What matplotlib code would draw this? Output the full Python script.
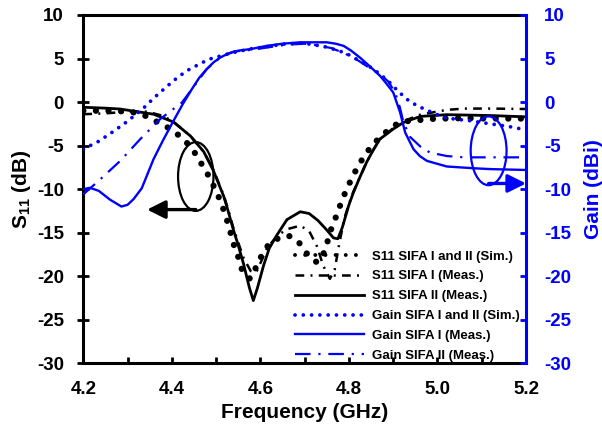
import matplotlib
matplotlib.use("Agg")
import matplotlib.pyplot as plt
from matplotlib.lines import Line2D
from matplotlib.patches import Ellipse, FancyArrowPatch

plt.rcParams["font.family"] = ["Liberation Sans", "DejaVu Sans"]
plt.rcParams["font.weight"] = "bold"
plt.rcParams["axes.labelweight"] = "bold"
plt.rcParams["axes.unicode_minus"] = False
plt.rcParams["mathtext.fontset"] = "custom"
plt.rcParams["mathtext.bf"] = "Liberation Sans:bold"
plt.rcParams["mathtext.rm"] = "Liberation Sans:bold"
plt.rcParams["mathtext.default"] = "bf"

BLUE = "#0000FF"

# S11 simulated (SIFA I and II)
f_s11_sim = [4.20, 4.26, 4.30, 4.33, 4.355, 4.381, 4.408, 4.43, 4.449, 4.464, 4.48,
             4.494, 4.505, 4.515, 4.524, 4.532, 4.54, 4.55, 4.558, 4.567, 4.577,
             4.588, 4.603, 4.618, 4.635, 4.65, 4.667, 4.68, 4.69, 4.705, 4.718,
             4.728, 4.74, 4.75, 4.761, 4.773, 4.784, 4.795, 4.806, 4.821, 4.84,
             4.855, 4.874, 4.90, 4.93, 4.953, 4.983, 5.01, 5.06, 5.12, 5.20]
s11_sim = [-1.0, -1.0, -1.1, -1.3, -2.0, -2.6, -3.5, -4.45, -5.6, -6.85, -8.2,
           -9.6, -10.8, -12.1, -13.5, -14.9, -16.4, -17.8, -19.2, -19.9, -20.3,
           -19.2, -17.6, -16.4, -15.8, -15.4, -15.4, -15.8, -16.3, -17.4, -18.1,
           -18.4, -17.8, -16.3, -14.4, -12.9, -11.3, -10.0, -8.8, -7.3, -5.8,
           -4.8, -3.9, -2.7, -2.2, -2.1, -1.95, -1.9, -1.85, -1.9, -1.9]

# S11 measured, SIFA I
f_s11_m1 = [4.20, 4.25, 4.30, 4.344, 4.381, 4.404, 4.442, 4.472, 4.494, 4.505,
            4.517, 4.527, 4.538, 4.549, 4.562, 4.578, 4.59, 4.60, 4.615, 4.637,
            4.66, 4.69, 4.71, 4.728, 4.742, 4.757, 4.768, 4.778, 4.79, 4.80,
            4.81, 4.825, 4.84, 4.855, 4.87, 4.90, 4.923, 4.961, 5.021, 5.06,
            5.12, 5.20]
s11_m1 = [-1.4, -1.3, -1.1, -1.1, -1.6, -2.3, -3.9, -5.7, -7.8, -9.2,
          -10.7, -12.3, -14.3, -16.0, -17.9, -19.4, -19.6, -18.5, -16.8, -15.4,
          -14.6, -14.2, -14.8, -16.6, -18.8, -20.3, -19.2, -16.3, -13.3, -11.7,
          -10.3, -8.6, -6.9, -5.5, -4.25, -3.0, -2.2, -1.45, -0.9, -0.75,
          -0.75, -0.8]

# S11 measured, SIFA II
f_s11_m2 = [4.20, 4.25, 4.283, 4.359, 4.404, 4.442, 4.472, 4.494, 4.505, 4.517,
            4.527, 4.538, 4.549, 4.562, 4.575, 4.584, 4.593, 4.607, 4.62, 4.637,
            4.66, 4.69, 4.71, 4.73, 4.75, 4.765, 4.775, 4.785, 4.80, 4.81,
            4.825, 4.84, 4.855, 4.87, 4.90, 4.923, 4.961, 5.021, 5.12, 5.20]
s11_m2 = [-0.6, -0.7, -0.8, -1.4, -2.3, -3.9, -5.7, -7.9, -9.3, -10.8,
          -12.5, -14.5, -16.3, -18.6, -21.3, -22.8, -21.4, -18.8, -16.8, -15.3,
          -13.5, -12.6, -12.8, -13.6, -14.7, -15.6, -15.7, -14.4, -11.8, -10.4,
          -8.6, -6.9, -5.5, -4.25, -3.1, -2.35, -1.65, -1.45, -1.55, -1.7]

# Gain simulated (SIFA I and II)
f_gain_sim = [4.20, 4.235, 4.27, 4.30, 4.336, 4.36, 4.389, 4.41, 4.434, 4.46,
              4.483, 4.51, 4.54, 4.577, 4.62, 4.652, 4.69, 4.712, 4.735, 4.75,
              4.77, 4.788, 4.805, 4.818, 4.835, 4.855, 4.875, 4.893, 4.908, 4.93,
              4.953, 4.979, 5.013, 5.044, 5.067, 5.119, 5.16, 5.20]
gain_sim = [-5.4, -4.5, -3.3, -2.2, -0.7, 0.5, 1.8, 2.7, 3.6, 4.3,
            4.9, 5.3, 5.7, 6.1, 6.4, 6.65, 6.75, 6.65, 6.45, 6.3,
            6.0, 5.7, 5.3, 4.9, 4.4, 3.8, 3.0, 2.2, 1.4, 0.35,
            -0.4, -1.0, -1.75, -2.0, -2.1, -2.5, -2.8, -3.2]

# Gain measured, SIFA I
f_gain_m1 = [4.20, 4.215, 4.235, 4.26, 4.286, 4.30, 4.3135, 4.332, 4.3587, 4.38,
             4.4038, 4.425, 4.4454, 4.462, 4.479, 4.494, 4.509, 4.528, 4.55,
             4.58, 4.614, 4.65, 4.69, 4.75, 4.77, 4.788, 4.805, 4.825, 4.845,
             4.8704, 4.885, 4.90, 4.9156, 4.927, 4.9456, 4.96, 4.9758, 5.0,
             5.021, 5.081, 5.119, 5.20]
gain_m1 = [-10.0, -9.85, -10.2, -11.2, -12.0, -11.8, -11.15, -9.9, -6.55, -4.4,
           -2.15, -0.2, 1.5, 2.8, 3.8, 4.55, 5.1, 5.6, 5.9,
           6.1, 6.45, 6.7, 6.86, 6.86, 6.7, 6.45, 5.9, 5.1, 4.2,
           3.0, 2.1, 1.1, -1.2, -3.5, -5.4, -6.2, -6.75, -7.1,
           -7.4, -7.6, -7.7, -7.8]

# Gain measured, SIFA II
f_gain_m2 = [4.20, 4.2377, 4.2835, 4.3287, 4.3738, 4.4228, 4.4454, 4.479, 4.509,
             4.54, 4.58, 4.62, 4.66, 4.70, 4.73, 4.76, 4.79, 4.82, 4.85, 4.87,
             4.89, 4.905, 4.915, 4.923, 4.938, 4.961, 4.983, 5.021, 5.06, 5.20]
gain_m2 = [-10.6, -8.9, -6.75, -4.25, -1.95, -0.05, 1.5, 3.8, 5.1,
           5.8, 6.0, 6.3, 6.6, 6.7, 6.5, 6.2, 5.6, 4.8, 3.8, 3.2,
           2.3, 1.0, -0.6, -2.3, -4.0, -5.1, -5.8, -6.2, -6.35, -6.35]

x_ticks = [4.2, 4.3, 4.4, 4.5, 4.6, 4.7, 4.8, 4.9, 5.0, 5.1, 5.2]
x_ticklabels = ["4.2", "", "4.4", "", "4.6", "", "4.8", "", "5.0", "", "5.2"]
y_ticks = [-30, -25, -20, -15, -10, -5, 0, 5, 10]

fig = plt.figure(figsize=(6.02, 4.24), dpi=100)
ax = fig.add_axes([0.1384, 0.1432, 0.7354, 0.8215])
ax2 = ax.twinx()

ax.plot(f_s11_sim, s11_sim, color="black", lw=4.5,
        linestyle=(0, (0.01, 2.0)), dash_capstyle="round")
l2, = ax.plot(f_s11_m1, s11_m1, color="black", lw=1.8,
              linestyle=(0, (3.5, 2.5, 0.8, 2.5)))
l3, = ax.plot(f_s11_m2, s11_m2, color="black", lw=2.0)

l4, = ax2.plot(f_gain_sim, gain_sim, color=BLUE, lw=2.7,
               linestyle=(0, (0.01, 2.2)), dash_capstyle="round")
l5, = ax2.plot(f_gain_m1, gain_m1, color=BLUE, lw=1.7)
l6, = ax2.plot(f_gain_m2, gain_m2, color=BLUE, lw=1.6,
               linestyle=(0, (7, 3.5, 1, 3.5)))

# smaller dots for the simulated S11 entry in the legend
l1 = Line2D([], [], color="black", lw=2.8, linestyle=(0, (0.01, 2.6)),
            dash_capstyle="round")

for a in (ax, ax2):
    a.set_xlim(4.2, 5.2)
    a.set_ylim(-30, 10)
    a.set_yticks(y_ticks)

ax.set_xticks(x_ticks)
ax.set_xticklabels(x_ticklabels)
ax.tick_params(axis="x", direction="in", length=4, width=2, labelsize=13.5, pad=13)
ax.tick_params(axis="y", direction="inout", length=8, width=2, labelsize=13.5, pad=10)
ax2.tick_params(axis="y", direction="in", length=4, width=2, labelsize=13.5,
                pad=13, colors=BLUE)
for lab in ax.get_xticklabels() + ax.get_yticklabels() + ax2.get_yticklabels():
    lab.set_fontweight("bold")

for side in ("left", "bottom", "top"):
    ax.spines[side].set_linewidth(2.2)
ax.spines["right"].set_visible(False)
for side in ("left", "bottom", "top"):
    ax2.spines[side].set_visible(False)
ax2.spines["right"].set_color(BLUE)
ax2.spines["right"].set_linewidth(2.2)

ax.set_xlabel("Frequency (GHz)", fontsize=15, fontweight="bold", labelpad=3)
ax.set_ylabel("S$_{11}$ (dB)", fontsize=15, fontweight="bold", labelpad=3)
ax2.set_ylabel("Gain (dBi)", fontsize=15, fontweight="bold", color=BLUE, labelpad=9)

# ellipses and arrows pointing to the matching axis
ax2.add_patch(Ellipse((4.454, -8.55), 0.080, 7.9, fill=False, ec="black", lw=1.6))
ax2.add_patch(FancyArrowPatch((4.454, -12.35), (4.344, -12.35),
                              arrowstyle="-|>,head_length=11,head_width=5.5",
                              mutation_scale=1, lw=2.4, color="black",
                              shrinkA=0, shrinkB=0))
ax2.add_patch(Ellipse((5.1155, -5.6), 0.081, 7.9, fill=False, ec=BLUE, lw=1.6))
ax2.add_patch(FancyArrowPatch((5.1155, -9.35), (5.2, -9.35),
                              arrowstyle="-|>,head_length=11,head_width=5.5",
                              mutation_scale=1, lw=2.4, color=BLUE,
                              shrinkA=0, shrinkB=0, clip_on=False))

handles = [l1, l2, l3, l4, l5, l6]
labels = ["S11 SIFA I and II (Sim.)", "S11 SIFA I (Meas.)", "S11 SIFA II (Meas.)",
          "Gain SIFA I and II (Sim.)", "Gain SIFA I (Meas.)", "Gain SIFA II (Meas.)"]
ax2.legend(handles, labels, loc="lower left", bbox_to_anchor=(0.476, 0.0),
           frameon=False, prop={"size": 9.5, "weight": "bold"},
           handlelength=5.2, handletextpad=0.6, labelspacing=0.58,
           borderpad=0.1, borderaxespad=0)

fig.savefig("out.png", dpi=100)
